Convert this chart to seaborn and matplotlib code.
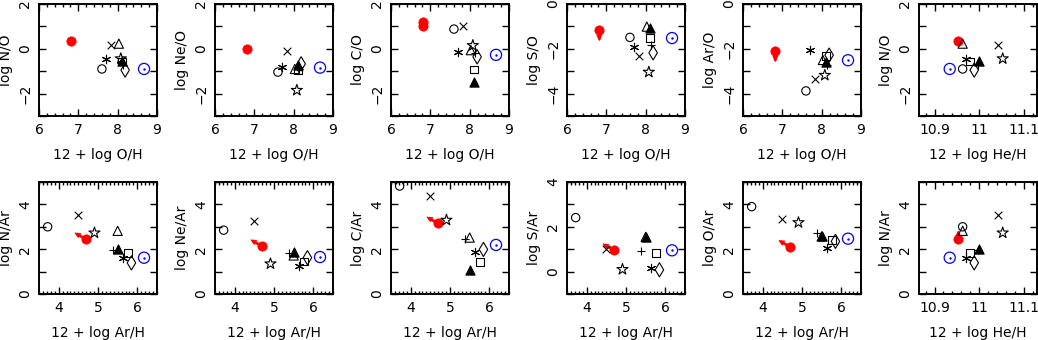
import numpy as np
import pandas as pd
import matplotlib
matplotlib.use("Agg")
import matplotlib.pyplot as plt
import seaborn as sns
from matplotlib.ticker import MultipleLocator, FuncFormatter, NullLocator

sns.set_theme(style="ticks")
plt.rcParams["font.family"] = ["DejaVu Sans"]
plt.rcParams["axes.unicode_minus"] = True

# ---------------- data (one value per object) ----------------
objects = ["red", "circle", "asterisk", "cross", "otri", "star", "ftri", "square", "plus", "diamond", "sun"]

OH  = [6.82, 7.60, 7.71, 7.82, 8.03, 8.08, 8.10, 8.11, 8.14, 8.19, 8.67]
ArH = [4.70, 3.72, 5.64, 4.49, 5.50, 4.91, 5.52, 5.76, 5.38, 5.85, 6.17]
HeH = [10.953, 10.963, 10.971, 11.043, 10.963, 11.053, 11.000, 10.980, 10.998, 10.989, 10.934]

NO  = [0.33, -0.90, -0.46, 0.18, 0.23, -0.44, -0.55, -0.56, -0.74, -0.95, -0.90]
NeO = [0.00, -1.04, -0.81, -0.10, -0.90, -1.85, -0.73, -0.97, -0.92, -0.67, -0.84]
CO  = [1.04, 0.88, -0.16, 1.01, -0.06, 0.15, -1.46, -0.93, -0.20, -0.36, -0.27]
CO_red_extra = [1.18]
SO  = [-1.16, -1.49, -1.91, -2.33, -1.01, -3.04, -1.05, -1.51, -1.84, -2.18, -1.52]
ArO = [-2.10, -3.88, -2.06, -3.34, -2.50, -3.18, -2.57, -2.33, -2.73, -2.28, -2.51]

NAr  = [2.44, 3.00, 1.62, 3.51, 2.82, 2.73, 2.00, 1.83, 1.95, 1.39, 1.62]
NeAr = [2.13, 2.85, 1.27, 3.24, 1.72, 1.35, 1.87, 1.45, 1.84, 1.62, 1.65]
CAr  = [3.15, 4.82, 1.89, 4.37, 2.52, 3.30, 1.09, 1.42, 2.47, 1.99, 2.19]
SAr  = [0.95, 2.41, 0.15, 1.02, 1.55, 0.10, 1.55, 0.84, 0.90, 0.08, 0.95]
OAr  = [2.10, 3.90, 2.05, 3.34, 2.57, 3.19, 2.59, 2.40, 2.73, 2.35, 2.47]

# limit arrows for the red object (data-unit displacement)
limit_down = [0.0, -0.5]
limit_diag = [-0.3, 0.3]
limit_up = [0.0, 0.4]

# ---------------- styles ----------------
styles = {
    "red":      dict(marker="o", s=44, facecolor="red", edgecolor="red", linewidth=0.6),
    "circle":   dict(marker="o", s=36, facecolor="none", edgecolor="black", linewidth=0.8),
    "asterisk": dict(marker=(6, 2, 0), s=36, color="black", linewidth=0.8),
    "cross":    dict(marker="x", s=30, color="black", linewidth=0.8),
    "otri":     dict(marker="^", s=44, facecolor="none", edgecolor="black", linewidth=0.8),
    "star":     dict(marker="*", s=70, facecolor="none", edgecolor="black", linewidth=0.8),
    "ftri":     dict(marker="^", s=44, facecolor="black", edgecolor="black", linewidth=0.8),
    "square":   dict(marker="s", s=30, facecolor="none", edgecolor="black", linewidth=0.8),
    "plus":     dict(marker="+", s=40, color="black", linewidth=0.8),
    "diamond":  dict(marker="d", s=52, facecolor="none", edgecolor="black", linewidth=0.8),
    "sun":      dict(marker="o", s=64, facecolor="none", edgecolor="blue", linewidth=0.9),
}

panels = [
    (OH, NO, "12 + log O/H", "log N/O", (6, 9), (-3, 2), "O", None),
    (OH, NeO, "12 + log O/H", "log Ne/O", (6, 9), (-3, 2), "O", None),
    (OH, CO, "12 + log O/H", "log C/O", (6, 9), (-3, 2), "O", None),
    (OH, SO, "12 + log O/H", "log S/O", (6, 9), (-5, 0), "O", limit_down),
    (OH, ArO, "12 + log O/H", "log Ar/O", (6, 9), (-5, 0), "O", limit_down),
    (HeH, NO, "12 + log He/H", "log N/O", (10.865, 11.13), (-3, 2), "He", None),
    (ArH, NAr, "12 + log Ar/H", "log N/Ar", (3.5, 6.5), (0, 5), "Ar", limit_diag),
    (ArH, NeAr, "12 + log Ar/H", "log Ne/Ar", (3.5, 6.5), (0, 5), "Ar", limit_diag),
    (ArH, CAr, "12 + log Ar/H", "log C/Ar", (3.5, 6.5), (0, 5), "Ar", limit_diag),
    (ArH, SAr, "12 + log Ar/H", "log S/Ar", (3.5, 6.5), (-1, 4), "Ar", limit_diag),
    (ArH, OAr, "12 + log Ar/H", "log O/Ar", (3.5, 6.5), (0, 5), "Ar", limit_diag),
    (HeH, NAr, "12 + log He/H", "log N/Ar", (10.865, 11.13), (0, 5), "He", limit_up),
]

W, H = 1038, 340
fig = plt.figure(figsize=(W / 100, H / 100), dpi=100)
fig.patch.set_facecolor("white")

lefts = [39 + 176 * i for i in range(6)]
tops = [4, 182]
aw, ah = 118, 112

def yfmt(v, pos):
    r = int(round(v))
    if abs(v - r) < 1e-6 and r % 2 == 0:
        return "\u2212%d" % abs(r) if r < 0 else "%d" % r
    return ""

for i, (xs, ys, xl, yl, xlim, ylim, kind, arrow) in enumerate(panels):
    row, col = divmod(i, 6)
    ax = fig.add_axes([lefts[col] / W, 1 - (tops[row] + ah) / H, aw / W, ah / H])
    ax.set_facecolor("white")
    df = pd.DataFrame({"obj": objects, "x": xs, "y": ys})
    for obj in objects:
        sub = df[df.obj == obj]
        sns.scatterplot(data=sub, x="x", y="y", ax=ax, legend=False, zorder=3, **styles[obj])
        if obj == "sun":
            sns.scatterplot(data=sub, x="x", y="y", ax=ax, legend=False, zorder=4,
                            marker="o", s=3, color="blue", edgecolor="blue", linewidth=0)
    if ys is CO:
        sns.scatterplot(x=[OH[0]] * len(CO_red_extra), y=CO_red_extra, ax=ax, legend=False,
                        zorder=3, **styles["red"])
    if arrow is not None:
        x0, y0 = xs[0], ys[0]
        x1, y1 = x0 + arrow[0], y0 + arrow[1]
        # shaft
        ax.plot([x0, x0 + 0.8 * arrow[0]], [y0, y0 + 0.8 * arrow[1]], color="red", lw=2.0,
                solid_capstyle="butt", zorder=2)
        # head
        ax.annotate("", xy=(x1, y1), xytext=(x0 + 0.6 * arrow[0], y0 + 0.6 * arrow[1]),
                    arrowprops=dict(arrowstyle="-|>,head_length=0.45,head_width=0.22",
                                    color="red", lw=0.5,
                                    mutation_scale=8, shrinkA=0, shrinkB=0), zorder=2)
    ax.set_xlim(*xlim)
    ax.set_ylim(*ylim)
    if kind == "O":
        ax.xaxis.set_major_locator(MultipleLocator(1))
        ax.xaxis.set_minor_locator(MultipleLocator(0.2))
    elif kind == "Ar":
        ax.xaxis.set_major_locator(MultipleLocator(1))
        ax.xaxis.set_minor_locator(MultipleLocator(0.1))
    else:
        ax.xaxis.set_major_locator(MultipleLocator(0.1))
        ax.xaxis.set_minor_locator(MultipleLocator(0.02))
    ax.xaxis.set_major_formatter(FuncFormatter(lambda v, p: "%g" % round(v, 3)))
    ax.yaxis.set_major_locator(MultipleLocator(1))
    ax.yaxis.set_minor_locator(NullLocator())
    ax.yaxis.set_major_formatter(FuncFormatter(yfmt))
    ax.tick_params(which="both", direction="in", top=True, right=True,
                   width=1.0, colors="black", labelsize=10, pad=5)
    ax.tick_params(which="major", length=5)
    ax.tick_params(which="minor", length=2.5)
    ax.tick_params(axis="y", labelrotation=90)
    for lab in ax.get_yticklabels():
        lab.set_va("center")
    for sp in ax.spines.values():
        sp.set_linewidth(1.4)
        sp.set_color("black")
    ax.set_xlabel(xl, fontsize=10, color="black")
    ax.set_ylabel(yl, fontsize=10, color="black")
    ax.xaxis.set_label_coords(0.5, -0.29)
    ax.yaxis.set_label_coords(-0.22, 0.5)

fig.savefig("out.png", dpi=100, facecolor="white")
